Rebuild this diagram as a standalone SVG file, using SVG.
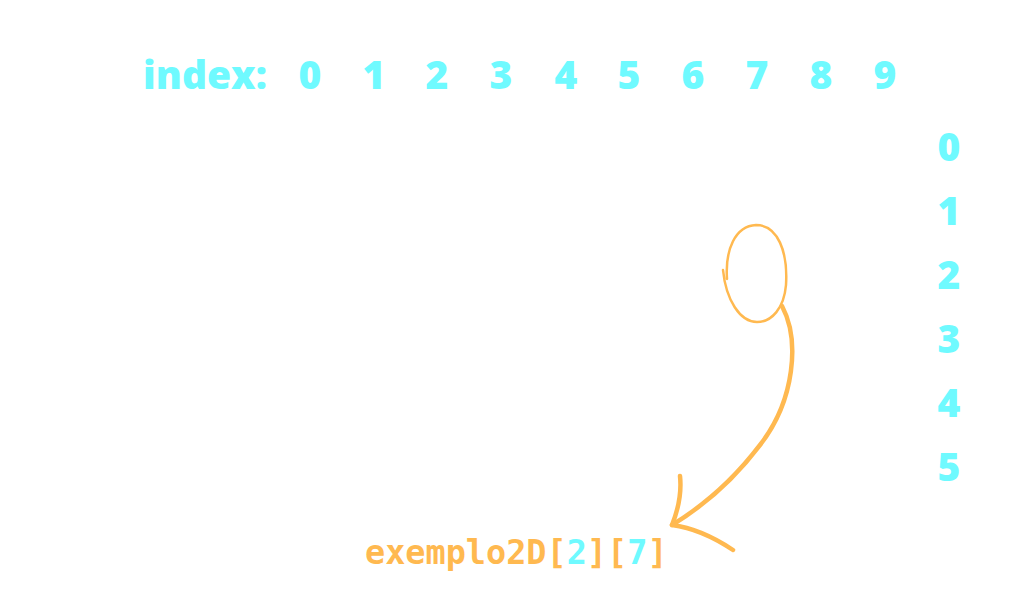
<svg xmlns="http://www.w3.org/2000/svg" width="1026" height="603" viewBox="0 0 1026 603">
<style>
.c{fill:#6FFAFF;font-family:"Open Sans","DejaVu Sans",sans-serif;font-weight:800;font-size:39px;text-anchor:middle}
.m{font-family:"DejaVu Sans Mono","Liberation Mono",monospace;font-weight:700;font-size:33.5px}
.o{fill:none;stroke:#FFB950;stroke-linecap:round;stroke-linejoin:round}
</style>
<rect width="1026" height="603" fill="#FFFFFF"/>
<g id="col-index">
<text class="c" x="205" y="89">index:</text>
<text class="c" x="310" y="89">0</text>
<text class="c" x="374" y="89">1</text>
<text class="c" x="437" y="89">2</text>
<text class="c" x="501" y="89">3</text>
<text class="c" x="566" y="89">4</text>
<text class="c" x="629" y="89">5</text>
<text class="c" x="693" y="89">6</text>
<text class="c" x="757" y="89">7</text>
<text class="c" x="821" y="89">8</text>
<text class="c" x="885" y="89">9</text>
</g>
<g id="row-index">
<text class="c" x="949" y="161">0</text>
<text class="c" x="949" y="225">1</text>
<text class="c" x="949" y="289">2</text>
<text class="c" x="949" y="353">3</text>
<text class="c" x="949" y="417">4</text>
<text class="c" x="949" y="481">5</text>
</g>
<g id="circle">
<path class="o" stroke-width="2.5" d="M727 279 C725 250 735 226 756 225 C778 225 788 252 786 285 C784 308 772 322 757 322 C740 322 726 300 723 270"/>
</g>
<g id="connectors">
<path class="o" stroke-width="4.5" d="M782 306 C800 340 795 400 760 445 C735 478 705 505 672 525"/>
<path class="o" stroke-width="4.5" d="M680 476 C682 495 678 510 672 525 C695 528 715 538 733 550"/>
</g>
<g id="label">
<text class="m" x="365" y="564"><tspan fill="#FFB950">exemplo2D[</tspan><tspan fill="#6FFAFF">2</tspan><tspan fill="#FFB950">][</tspan><tspan fill="#6FFAFF">7</tspan><tspan fill="#FFB950">]</tspan></text>
</g>
</svg>
